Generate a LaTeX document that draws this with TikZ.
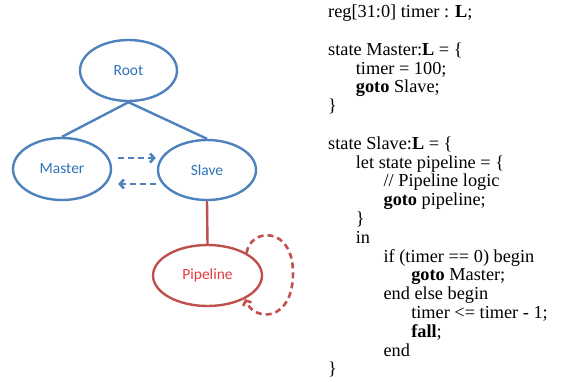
\documentclass[tikz,border=0pt]{standalone}
\usepackage{fontspec}
\setmainfont{Liberation Serif}
\newfontfamily\labelfont{Carlito}
\usetikzlibrary{shapes.geometric,arrows.meta}

\definecolor{stblue}{HTML}{4F81BD}
\definecolor{sttext}{HTML}{2F74B8}
\definecolor{stred}{HTML}{C0504D}
\definecolor{stredtext}{HTML}{E23B3F}

% one indent step of the listing
\newcommand\ind{\hspace*{27.7pt}}

\begin{document}
\begin{tikzpicture}[x=1pt,y=-1pt,
  state/.style={ellipse,draw=stblue,line width=2.4pt,inner sep=0pt,
    text=sttext,font=\labelfont\fontsize{15.5}{18}\selectfont},
  substate/.style={state,draw=stred,text=stredtext},
  trans/.style={draw=stblue,line width=2.6pt,dash pattern=on 6pt off 4pt,
    -{Straight Barb[length=4pt,width=9pt]}},
  code/.style={align=left,inner sep=0pt,
    font=\fontsize{18.3}{18.8}\selectfont}]

  \useasboundingbox (0,0) rectangle (565,381);

  % state tree
  \node[state,minimum width=97pt,minimum height=61pt] (root) at (128.5,70.5) {Root};
  \node[state,minimum width=98pt,minimum height=62pt] (master) at (62,169) {Master};
  \node[state,minimum width=98pt,minimum height=60pt] (slave) at (207,170) {Slave};
  \node[substate,minimum width=109pt,minimum height=61pt] (pipe) at (207.5,275.5) {Pipeline};

  \draw[stblue,line width=2.4pt] (root.south) -- (master.north);
  \draw[stblue,line width=2.4pt] (root.south) -- (slave.north);
  \draw[stred,line width=2.4pt] (slave.south) -- (pipe.north);

  % goto between master and slave
  \draw[trans] ([xshift=6pt,yshift=11pt]master.east) -- ([xshift=-1pt,yshift=12pt]slave.west);
  \draw[trans] ([xshift=-1pt,yshift=-14pt]slave.west) -- ([xshift=6pt,yshift=-15pt]master.east);

  % pipeline loops on itself
  \draw[trans,draw=stred] (pipe.30) .. controls (250,228) and (293,225) .. (293,273)
    .. controls (293,322) and (255,322) .. (pipe.-32);

  % source listing, first baseline at y=17.5
  \node[code,anchor=north west] (prog) at (328,4.3) {%
    \strut reg[31:0] timer : \textbf{L};\\[18.8pt]
    state Master:\textbf{L} = \{\\
    \ind timer = 100;\\
    \ind\textbf{goto} Slave;\\
    \}\\[18.8pt]
    state Slave:\textbf{L} = \{\\
    \ind let state pipeline = \{\\
    \ind\ind // Pipeline logic\\
    \ind\ind\textbf{goto} pipeline;\\
    \ind\}\\
    \ind in\\
    \ind\ind if (timer == 0) begin\\
    \ind\ind\ind\textbf{goto} Master;\\
    \ind\ind end else begin\\
    \ind\ind\ind timer <= timer - 1;\\
    \ind\ind\ind\textbf{fall};\\
    \ind\ind end\\
    \}};
\end{tikzpicture}
\end{document}
